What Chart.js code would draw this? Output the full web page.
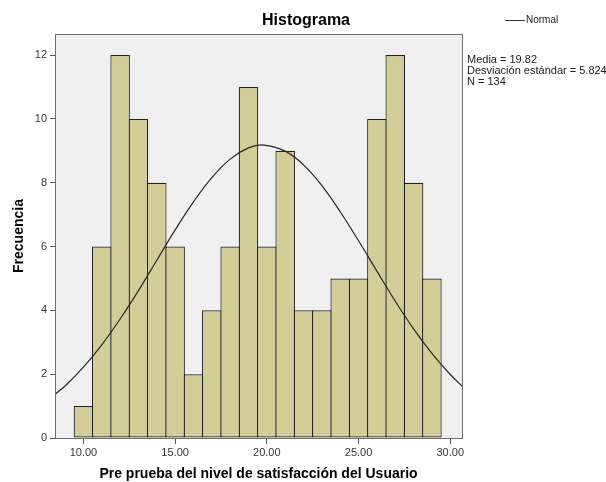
<!DOCTYPE html>
<html>
<head>
<meta charset="utf-8">
<script src="https://cdn.jsdelivr.net/npm/chart.js@4.4.1/dist/chart.umd.min.js"></script>
<style>
  html, body { margin: 0; padding: 0; background: #fff; }
  #wrap { width: 606px; height: 482px; position: relative; }
</style>
</head>
<body>
<div id="wrap"><canvas id="histChart"></canvas></div>
<script>
// --- Data ---
const binCenters = [10, 11, 12, 13, 14, 15, 16, 17, 18, 19, 20, 21, 22, 23, 24, 25, 26, 27, 28, 29];
const frequencies = [1, 6, 12, 10, 8, 6, 2, 4, 6, 11, 6, 9, 4, 4, 5, 5, 10, 12, 8, 5];

// Normal curve, points estimated along the drawn line
const curveX = [8.45, 9, 10, 11, 12, 13, 14, 15, 16, 17, 18, 19, 19.82, 21, 22, 23, 24, 25, 26, 27, 28, 29, 30, 30.64];
const curveY = [1.37, 1.63, 2.22, 2.92, 3.73, 4.62, 5.57, 6.52, 7.40, 8.16, 8.74, 9.09, 9.18, 8.99, 8.56, 7.91, 7.09, 6.18, 5.23, 4.29, 3.42, 2.65, 1.99, 1.63];

const xTicks = [10, 15, 20, 25, 30];
const yTicks = [0, 2, 4, 6, 8, 10, 12];

const statsLines = ['Media = 19.82', 'Desviación estándar = 5.824', 'N = 134'];
const legendLabel = 'Normal';
const chartTitle = 'Histograma';
const xTitle = 'Pre prueba del nivel de satisfacción del Usuario';
const yTitle = 'Frecuencia';

const FONT = '"Liberation Sans", Arial, sans-serif';

// --- Plugins: plot background, frame, texts ---
const spssDecor = {
    id: 'spssDecor',
    beforeDraw(chart) {
        const { ctx, chartArea: a } = chart;
        ctx.save();
        ctx.fillStyle = '#f0f0f0';
        ctx.fillRect(a.left, a.top, a.right - a.left, a.bottom - a.top);
        ctx.restore();
    },
    afterDraw(chart) {
        const { ctx, chartArea: a } = chart;
        ctx.save();
        // frame
        ctx.strokeStyle = '#6e6e6e';
        ctx.lineWidth = 1;
        ctx.strokeRect(Math.round(a.left) + 0.5, Math.round(a.top) + 0.5,
            Math.round(a.right - a.left), Math.round(a.bottom - a.top));

        ctx.fillStyle = '#000';
        ctx.textAlign = 'center';
        ctx.textBaseline = 'middle';

        // title
        ctx.font = 'bold 16px ' + FONT;
        ctx.fillText(chartTitle, 306, 21);

        // axis titles
        ctx.font = 'bold 14px ' + FONT;
        ctx.fillText(xTitle, (a.left + a.right) / 2, 474);
        ctx.save();
        ctx.translate(19, (a.top + a.bottom) / 2);
        ctx.rotate(-Math.PI / 2);
        ctx.fillText(yTitle, 0, 0);
        ctx.restore();

        // legend
        ctx.strokeStyle = '#333';
        ctx.beginPath();
        ctx.moveTo(505, 20.5);
        ctx.lineTo(525, 20.5);
        ctx.stroke();
        ctx.font = '10px ' + FONT;
        ctx.textAlign = 'left';
        ctx.fillStyle = '#222';
        ctx.fillText(legendLabel, 526, 20);

        // stats
        ctx.font = '11px ' + FONT;
        statsLines.forEach((t, i) => ctx.fillText(t, 467, 60 + i * 11.2));
        ctx.restore();
    }
};

const ctx = document.getElementById('histChart').getContext('2d');

new Chart(ctx, {
    type: 'bar',
    data: {
        datasets: [
            {
                type: 'line',
                label: legendLabel,
                data: curveX.map((x, i) => ({ x: x, y: curveY[i] })),
                borderColor: '#262626',
                borderWidth: 1.2,
                pointRadius: 0,
                tension: 0.4,
                fill: false,
                order: 0
            },
            {
                label: yTitle,
                data: binCenters.map((x, i) => ({ x: x, y: frequencies[i] })),
                backgroundColor: '#d3ce97',
                borderColor: '#222',
                borderWidth: 1.2,
                borderSkipped: false,
                barPercentage: 1.065,
                categoryPercentage: 1,
                order: 1
            }
        ]
    },
    options: {
        responsive: true,
        maintainAspectRatio: false,
        animation: false,
        layout: { padding: { left: 0, right: 144, top: 34, bottom: 0 } },
        plugins: {
            legend: { display: false },
            title: { display: false },
            tooltip: { enabled: false }
        },
        scales: {
            x: {
                type: 'linear',
                offset: false,
                min: 8.45,
                max: 30.64,
                afterFit: s => { s.height = 44; },
                afterBuildTicks: s => { s.ticks = xTicks.map(v => ({ value: v })); },
                grid: { offset: false, drawOnChartArea: false, drawTicks: true, tickLength: 6, tickColor: '#555' },
                border: { display: true, color: '#555' },
                ticks: {
                    color: '#333',
                    padding: 2,
                    maxRotation: 0,
                    font: { family: FONT, size: 11 },
                    callback: v => v.toFixed(2)
                }
            },
            y: {
                min: 0,
                max: 12.66,
                afterFit: s => { s.width = 55; },
                afterBuildTicks: s => { s.ticks = yTicks.map(v => ({ value: v })); },
                grid: { drawOnChartArea: false, drawTicks: true, tickLength: 5, tickColor: '#555' },
                border: { display: true, color: '#555' },
                ticks: {
                    color: '#333',
                    padding: 3,
                    font: { family: FONT, size: 11 }
                }
            }
        }
    },
    plugins: [spssDecor]
});
</script>
</body>
</html>
